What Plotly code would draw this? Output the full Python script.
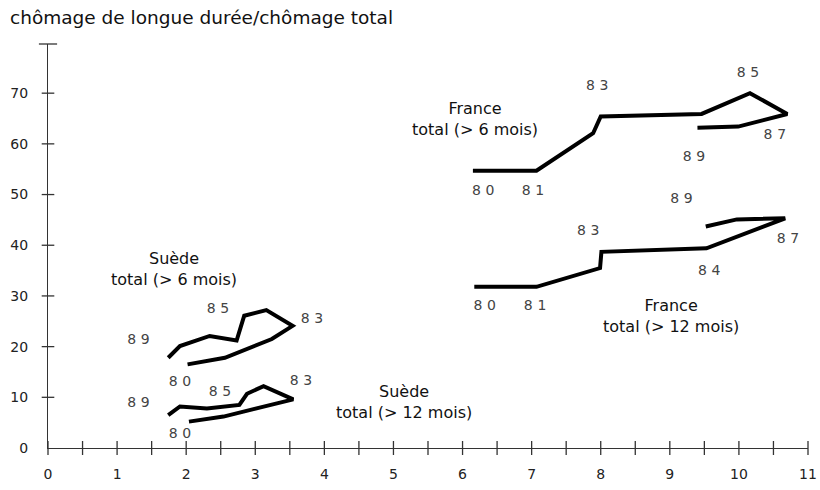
import plotly.graph_objects as go

# ---- data (x: chômage total, y: part longue durée) ----
fr6_x = [6.15, 7.07, 7.89, 8.00, 9.46, 10.16, 10.70, 9.99, 9.40]
fr6_y = [54.7, 54.7, 62.1, 65.4, 65.9, 70.0, 65.9, 63.4, 63.2]

fr12_x = [6.17, 7.07, 7.99, 8.01, 9.53, 10.21, 10.67, 9.97, 9.52]
fr12_y = [31.8, 31.8, 35.5, 38.7, 39.4, 43.0, 45.3, 45.1, 43.7]

se6_x = [2.02, 2.56, 3.24, 3.54, 3.16, 2.84, 2.73, 2.34, 1.91, 1.74]
se6_y = [16.5, 17.8, 21.5, 24.1, 27.2, 26.1, 21.2, 22.1, 20.1, 17.8]

se12_x = [2.04, 2.54, 3.55, 3.12, 2.88, 2.77, 2.30, 1.91, 1.74]
se12_y = [5.2, 6.2, 9.6, 12.2, 10.7, 8.5, 7.8, 8.2, 6.5]

# year labels
year_x = [6.30, 7.02, 7.95, 10.13, 10.52, 9.35,
          6.32, 7.05, 7.82, 9.57, 10.71, 9.17,
          1.31, 1.91, 2.46, 3.82,
          1.31, 1.91, 2.49, 3.66]
year_y = [50.7, 50.7, 71.4, 73.9, 61.6, 57.4,
          28.0, 28.0, 42.7, 34.8, 41.2, 49.1,
          21.3, 12.9, 27.4, 25.3,
          8.8, 2.6, 11.0, 13.1]
year_txt = ["80", "81", "83", "85", "87", "89",
            "80", "81", "83", "84", "87", "89",
            "89", "80", "85", "83",
            "89", "80", "85", "83"]

# series labels
name_x = [6.18, 9.02, 1.82, 5.15]
name_y = [65.0, 26.1, 35.3, 9.1]
name_txt = ["France<br>total (&gt; 6 mois)", "France<br>total (&gt; 12 mois)",
            "Suède<br>total (&gt; 6 mois)", "Suède<br>total (&gt; 12 mois)"]

x_ticks = [0, 1, 2, 3, 4, 5, 6, 7, 8, 9, 10, 11]
x_minor = [0, 0.5, 1, 1.5, 2, 2.5, 3, 3.5, 4, 4.5, 5, 5.5, 6, 6.5, 7, 7.5,
           8, 8.5, 9, 9.5, 10, 10.5, 11]
y_ticks = [0, 10, 20, 30, 40, 50, 60, 70]
y_top = 79.7

title = "chômage de longue durée/chômage total"

fig = go.Figure()

for xs, ys in [(fr6_x, fr6_y), (fr12_x, fr12_y), (se6_x, se6_y), (se12_x, se12_y)]:
    fig.add_trace(go.Scatter(x=xs, y=ys, mode="lines",
                             line=dict(color="black", width=4),
                             hoverinfo="skip", showlegend=False))

# crossing tick marks on the axes
fig.add_trace(go.Scatter(x=x_minor, y=[0] * len(x_minor), mode="markers",
                         marker=dict(symbol="line-ns", size=10,
                                     line=dict(color="#333", width=1.3)),
                         cliponaxis=False, hoverinfo="skip", showlegend=False))
fig.add_trace(go.Scatter(x=[0] * (len(y_ticks) - 1), y=y_ticks[1:], mode="markers",
                         marker=dict(symbol="line-ew", size=9,
                                     line=dict(color="#333", width=1.3)),
                         cliponaxis=False, hoverinfo="skip", showlegend=False))
fig.add_trace(go.Scatter(x=[0], y=[y_top], mode="markers",
                         marker=dict(symbol="line-ew", size=13,
                                     line=dict(color="#333", width=1.3)),
                         cliponaxis=False, hoverinfo="skip", showlegend=False))

fig.add_trace(go.Scatter(x=year_x, y=year_y, mode="text",
                         text=[t[0] + "\u2004" + t[1] for t in year_txt],
                         textfont=dict(family="DejaVu Sans", size=14, color="#444"),
                         cliponaxis=False, hoverinfo="skip", showlegend=False))

for nx, ny, nt in zip(name_x, name_y, name_txt):
    fig.add_annotation(x=nx, y=ny, text=nt, showarrow=False,
                       font=dict(family="DejaVu Sans", size=16, color="#111"),
                       xanchor="center", yanchor="middle")

W, H = 820, 490
fig.update_layout(
    width=W, height=H,
    margin=dict(l=48, r=12, t=44, b=42, pad=0, autoexpand=False),
    paper_bgcolor="white", plot_bgcolor="white",
    title=dict(text=title, x=10 / W, xanchor="left", y=1 - 18 / H,
               yanchor="middle", font=dict(family="DejaVu Sans", size=18.5, color="#111")),
    xaxis=dict(range=[0, 11], showgrid=False, zeroline=False, showline=True,
               automargin=False,
               linecolor="#333", linewidth=1.2, ticks="outside", ticklen=13,
               tickcolor="rgba(0,0,0,0)", tickvals=x_ticks,
               tickfont=dict(family="DejaVu Sans", size=14, color="#222")),
    yaxis=dict(range=[0, y_top], showgrid=False, zeroline=False, showline=True,
               automargin=False,
               linecolor="#333", linewidth=1.2, ticks="outside", ticklen=16,
               tickcolor="rgba(0,0,0,0)", tickvals=y_ticks,
               tickfont=dict(family="DejaVu Sans", size=14, color="#222")),
)

# remove the page's default body margin so the figure fills the window exactly
fig.write_html("out.html", config={"displayModeBar": False},
               post_script="document.body.style.margin='0';document.body.style.overflow='hidden';")
